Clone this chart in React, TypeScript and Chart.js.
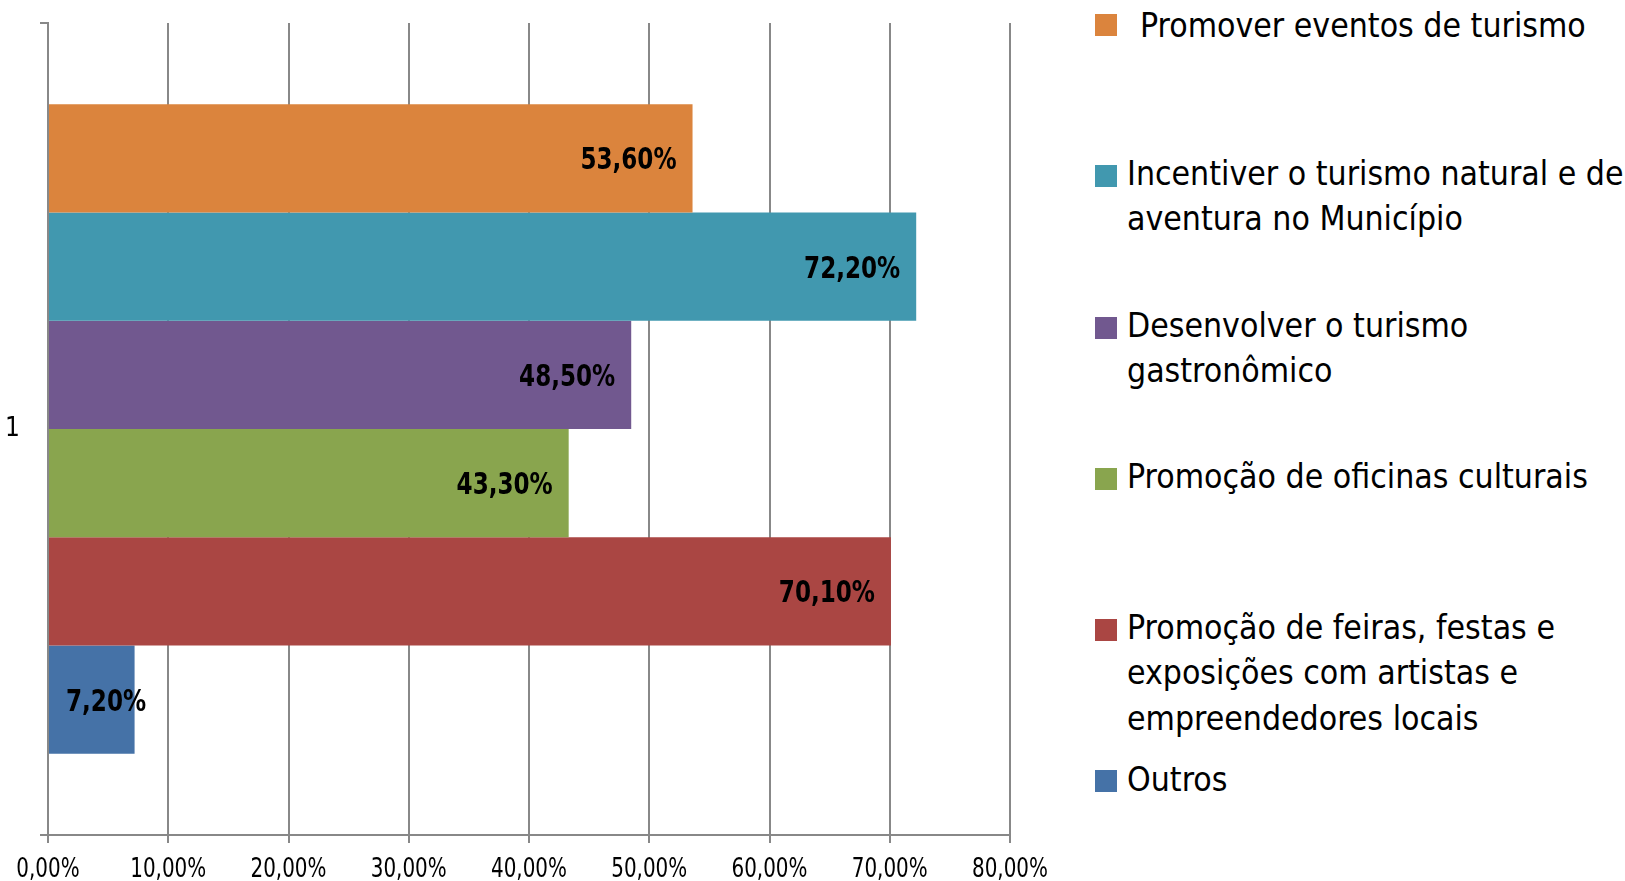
import React, { useEffect, useRef } from "react";
import { Chart, registerables } from "chart.js";

Chart.register(...registerables);

const categories = ["1"];
const seriesLabels = [
  "Promover eventos de turismo",
  "Incentiver o turismo natural e de aventura no Município",
  "Desenvolver o turismo gastronômico",
  "Promoção de oficinas culturais",
  "Promoção de feiras, festas e exposições com artistas e empreendedores locais",
  "Outros",
];
const legendLines = [
  ["Promover eventos de turismo"],
  ["Incentiver o turismo natural e de", "aventura no Município"],
  ["Desenvolver o turismo", "gastronômico"],
  ["Promoção de oficinas culturais"],
  ["Promoção de feiras, festas e", "exposições com artistas e", "empreendedores locais"],
  ["Outros"],
];
const seriesValues = [53.6, 72.2, 48.5, 43.3, 70.1, 7.2];
const seriesColors = ["#DB843D", "#4198AF", "#71588F", "#89A54E", "#AA4643", "#4572A7"];
const xMin = 0;
const xMax = 80;
const xStep = 10;

const FONT = '"DejaVu Sans Condensed", "DejaVu Sans", sans-serif';
const legendSquareTops = [14, 165, 317, 468, 619, 770];
const legendCapCenters = [25, 173, 325, 476, 627, 779];
const legendTextLeft = [1140, 1127, 1127, 1127, 1127, 1127];

const fmt = (v: number) => v.toFixed(2).replace(".", ",") + "%";

function drawNarrow(ctx: any, text: string, x: number, y: number, align: string, sx: number) {
  const w = ctx.measureText(text).width * sx;
  let left = x;
  if (align === "right") left = x - w;
  else if (align === "center") left = x - w / 2;
  ctx.save();
  ctx.translate(left, y);
  ctx.scale(sx, 1);
  ctx.textAlign = "left";
  ctx.textBaseline = "alphabetic";
  ctx.fillText(text, 0, 0);
  ctx.restore();
  return w;
}

const labelPlugin = {
  id: "customLabels",
  afterDraw(chart: any) {
    const ctx = chart.ctx;
    ctx.save();
    ctx.fillStyle = "#000";
    ctx.font = `bold 30px ${FONT}`;
    const sxBar = 0.855;
    chart.data.datasets.forEach((ds: any, i: number) => {
      const meta = chart.getDatasetMeta(i);
      meta.data.forEach((el: any, j: number) => {
        const txt = fmt(ds.data[j]);
        const w = ctx.measureText(txt).width * sxBar;
        const right = Math.max(el.x - 16, el.base + 17 + w);
        drawNarrow(ctx, txt, right, el.y + 11, "right", sxBar);
      });
    });
    const xs = chart.scales.x;
    ctx.font = `27px ${FONT}`;
    xs.ticks.forEach((t: any, i: number) => {
      const px = xs.getPixelForTick(i);
      drawNarrow(ctx, fmt(t.value), px, xs.top + 42, "center", 0.82);
    });
    ctx.restore();
  },
};

export default function App() {
  const ref = useRef<HTMLCanvasElement | null>(null);
  useEffect(() => {
    document.body.style.margin = "0";
    if (!ref.current) return;
    const chart = new Chart(ref.current, {
      type: "bar",
      data: {
        labels: categories,
        datasets: seriesLabels.map((l, i) => ({
          label: l,
          data: [seriesValues[i]],
          backgroundColor: seriesColors[i],
          borderWidth: 0,
          categoryPercentage: 0.8,
          barPercentage: 1.0,
        })),
      },
      options: {
        indexAxis: "y",
        animation: false,
        responsive: false,
        maintainAspectRatio: false,
        layout: { padding: { left: 0, top: 23, right: 70, bottom: 0 } },
        plugins: { legend: { display: false }, tooltip: { enabled: false } },
        scales: {
          x: {
            min: xMin,
            max: xMax,
            ticks: {
              stepSize: xStep,
              callback: (v: any) => fmt(Number(v)),
              color: "rgba(0,0,0,0)",
              font: { family: FONT, size: 10 },
              autoSkip: false,
              maxRotation: 0,
            },
            grid: { color: "#888", lineWidth: 2, tickLength: 8, drawTicks: true },
            border: { color: "#888", width: 2 },
            afterFit: (s: any) => {
              s.height = 46;
              s.paddingLeft = 0;
              s.paddingRight = 0;
            },
          },
          y: {
            ticks: { color: "#000", font: { family: FONT, size: 26 }, padding: 20 },
            grid: { drawOnChartArea: false, color: "#888", lineWidth: 2, tickLength: 8 },
            border: { color: "#888", width: 2 },
            afterFit: (s: any) => {
              s.width = 48;
              s.paddingTop = 0;
              s.paddingBottom = 0;
            },
          },
        },
      },
      plugins: [labelPlugin],
    } as any);
    return () => chart.destroy();
  }, []);

  return (
    <div style={{ position: "relative", width: 1625, height: 881, background: "#fff", overflow: "hidden" }}>
      <canvas ref={ref} width={1080} height={881} style={{ position: "absolute", left: 0, top: 0, width: 1080, height: 881 }} />
      {legendLines.map((lines, i) => (
        <div key={i}>
          <div
            style={{
              position: "absolute",
              left: 1095,
              top: legendSquareTops[i],
              width: 22,
              height: 22,
              background: seriesColors[i],
            }}
          />
          <div
            style={{
              position: "absolute",
              left: legendTextLeft[i],
              top: legendCapCenters[i] - 22.4,
              fontFamily: FONT,
              fontSize: 33.5,
              lineHeight: "45.6px",
              color: "#000",
              whiteSpace: "nowrap",
            }}
          >
            {lines.map((ln, k) => (
              <div key={k}>{ln}</div>
            ))}
          </div>
        </div>
      ))}
    </div>
  );
}
